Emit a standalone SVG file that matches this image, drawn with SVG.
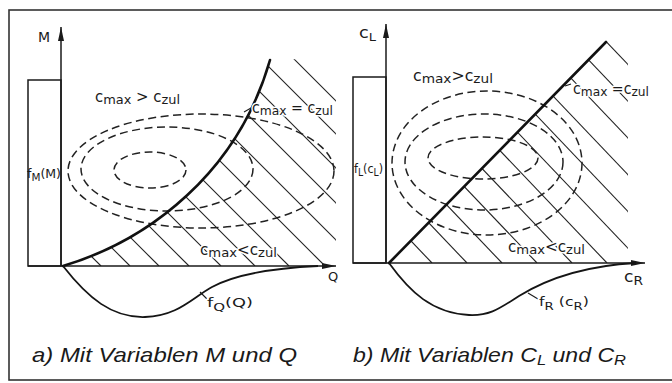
<svg xmlns="http://www.w3.org/2000/svg" width="672" height="383" viewBox="0 0 672 383">
<style>
.ax{stroke:#1a1a1a;stroke-width:1.5;fill:none}
.thick{stroke:#111;stroke-width:2.6;fill:none;stroke-linecap:round}
.fc{stroke:#151515;stroke-width:1.8;fill:none}
.hatch{stroke:#222;stroke-width:1.1}
.dash{stroke:#222;stroke-width:1.5;fill:none;stroke-dasharray:8 4.5}
.t{font-family:"DejaVu Sans","Liberation Sans",sans-serif;fill:#1a1a1a}
.h{stroke:#fff;stroke-width:3;paint-order:stroke;stroke-linejoin:round}
.cap{font-family:"Liberation Sans","DejaVu Sans",sans-serif;font-style:italic;font-size:21px;fill:#1a1a1a}
.thin{stroke:#1a1a1a;stroke-width:1.1}
</style>
<defs>
<marker id="arr" viewBox="0 0 14 6" refX="14" refY="3" markerWidth="14" markerHeight="6" markerUnits="userSpaceOnUse" orient="auto"><path d="M0,0 L14,3 L0,6 z" fill="#1a1a1a"/></marker>
<clipPath id="clipA"><path d="M63,266 C150,240 238,172 270,60 L336,58 L336,266 Z"/></clipPath>
<clipPath id="clipB"><path d="M389,263 L606,42 L628,42 L628,263 Z"/></clipPath>
</defs>
<rect width="672" height="383" fill="#fff"/>
<g id="frame"><rect x="9" y="10" width="700" height="370" fill="none" stroke="#333" stroke-width="1.6"/></g>

<g id="panel-a">
  <g id="hatch-a" clip-path="url(#clipA)" class="hatch">
    <line x1="101" y1="266" x2="-139" y2="26"/>
    <line x1="130" y1="266" x2="-110" y2="26"/>
    <line x1="159" y1="266" x2="-81" y2="26"/>
    <line x1="189" y1="266" x2="-51" y2="26"/>
    <line x1="221" y1="266" x2="-19" y2="26"/>
    <line x1="255" y1="266" x2="15" y2="26"/>
    <line x1="289" y1="266" x2="49" y2="26"/>
    <line x1="325" y1="266" x2="85" y2="26"/>
    <line x1="362" y1="266" x2="122" y2="26"/>
    <line x1="399" y1="266" x2="159" y2="26"/>
    <line x1="434" y1="266" x2="194" y2="26"/>
    <line x1="468" y1="266" x2="228" y2="26"/>
    <line x1="501" y1="266" x2="261" y2="26"/>
  </g>
  <g id="ellipses-a" class="dash">
    <ellipse cx="150" cy="170" rx="36" ry="18"/>
    <ellipse cx="167" cy="169" rx="86" ry="42"/>
    <ellipse cx="201" cy="171" rx="133" ry="57"/>
  </g>
  <g id="axes-a">
    <rect x="28" y="80" width="33" height="186" class="ax"/>
    <line x1="61" y1="266" x2="61" y2="27" class="ax" marker-end="url(#arr)"/>
    <line x1="28" y1="266" x2="336" y2="266" class="ax" marker-end="url(#arr)"/>
  </g>
  <path id="limit-a" class="thick" d="M63,266 C150,240 238,172 270,60"/>
  <path id="fQ" class="fc" d="M63,266 C88,298 112,318 145,317 C178,316 192,298 212,287 C238,273 275,268 318,266"/>
  <g id="labels-a">
    <line x1="244" y1="112" x2="251" y2="108" class="thin"/>
    <line x1="200" y1="292" x2="207" y2="299" class="thin"/>
    <text class="t h" x="95" y="102" font-size="15" textLength="85" lengthAdjust="spacingAndGlyphs">c<tspan font-size="13" dy="2">max</tspan><tspan dy="-2"> &gt; c</tspan><tspan font-size="13" dy="2">zul</tspan></text>
    <text class="t h" x="252" y="113" font-size="15" textLength="81" lengthAdjust="spacingAndGlyphs">c<tspan font-size="13" dy="2">max</tspan><tspan dy="-2"> = c</tspan><tspan font-size="13" dy="2">zul</tspan></text>
    <text class="t h" x="200" y="255" font-size="15" textLength="77" lengthAdjust="spacingAndGlyphs">c<tspan font-size="13" dy="2">max</tspan><tspan dy="-2">&lt;c</tspan><tspan font-size="13" dy="2">zul</tspan></text>
    <text class="t" x="38" y="42" font-size="14">M</text>
    <text class="t" x="27" y="178" font-size="12" textLength="34" lengthAdjust="spacingAndGlyphs">f<tspan font-size="10" dy="3">M</tspan><tspan dy="-3">(M)</tspan></text>
    <text class="t" x="328" y="281" font-size="13">Q</text>
    <text class="t h" x="207" y="307" font-size="13" textLength="46" lengthAdjust="spacingAndGlyphs">f<tspan font-size="11" dy="4">Q</tspan><tspan dy="-4">(Q)</tspan></text>
  </g>
  <text id="caption-a" class="cap" x="32" y="362" textLength="265" lengthAdjust="spacingAndGlyphs">a) Mit Variablen M und Q</text>
</g>

<g id="panel-b">
  <g id="hatch-b" clip-path="url(#clipB)" class="hatch">
    <line x1="432" y1="263" x2="202" y2="21.5"/>
    <line x1="467" y1="263" x2="237" y2="21.5"/>
    <line x1="502" y1="263" x2="272" y2="21.5"/>
    <line x1="537" y1="263" x2="307" y2="21.5"/>
    <line x1="572" y1="263" x2="342" y2="21.5"/>
    <line x1="607" y1="263" x2="377" y2="21.5"/>
    <line x1="642" y1="263" x2="412" y2="21.5"/>
    <line x1="677" y1="263" x2="447" y2="21.5"/>
    <line x1="712" y1="263" x2="482" y2="21.5"/>
    <line x1="747" y1="263" x2="517" y2="21.5"/>
    <line x1="782" y1="263" x2="552" y2="21.5"/>
    <line x1="817" y1="263" x2="587" y2="21.5"/>
  </g>
  <g id="ellipses-b" class="dash">
    <ellipse cx="483" cy="158" rx="55" ry="21"/>
    <ellipse cx="484" cy="162" rx="79" ry="48"/>
    <ellipse cx="487" cy="163" rx="95" ry="72"/>
  </g>
  <g id="axes-b">
    <rect x="353" y="77" width="33" height="186" class="ax"/>
    <line x1="386" y1="263" x2="386" y2="24" class="ax" marker-end="url(#arr)"/>
    <line x1="353" y1="263" x2="645" y2="263" class="ax" marker-end="url(#arr)"/>
  </g>
  <path id="limit-b" class="thick" d="M389,263 L606,42"/>
  <path id="fR" class="fc" d="M389,263 C410,292 432,313 469,315 C490,316 500,308 519,296 C545,280 580,266 636,263"/>
  <g id="labels-b">
    <line x1="565" y1="86" x2="571" y2="84" class="thin"/>
    <line x1="528" y1="293" x2="538" y2="299" class="thin"/>
    <text class="t h" x="413" y="81" font-size="15" textLength="80" lengthAdjust="spacingAndGlyphs">c<tspan font-size="13" dy="2">max</tspan><tspan dy="-2">&gt;c</tspan><tspan font-size="13" dy="2">zul</tspan></text>
    <text class="t h" x="573" y="94" font-size="15" textLength="76" lengthAdjust="spacingAndGlyphs">c<tspan font-size="13" dy="2">max</tspan><tspan dy="-2"> =c</tspan><tspan font-size="13" dy="2">zul</tspan></text>
    <text class="t h" x="508" y="252" font-size="15" textLength="77" lengthAdjust="spacingAndGlyphs">c<tspan font-size="13" dy="2">max</tspan><tspan dy="-2">&lt;c</tspan><tspan font-size="13" dy="2">zul</tspan></text>
    <text class="t" x="359" y="38" font-size="15" textLength="17" lengthAdjust="spacingAndGlyphs">c<tspan font-size="11" dy="3">L</tspan></text>
    <text class="t" x="354" y="173" font-size="12" textLength="29" lengthAdjust="spacingAndGlyphs">f<tspan font-size="10" dy="3">L</tspan><tspan dy="-3">(c</tspan><tspan font-size="10" dy="3">L</tspan><tspan dy="-3">)</tspan></text>
    <text class="t" x="624" y="282" font-size="15" textLength="19" lengthAdjust="spacingAndGlyphs">c<tspan font-size="12" dy="3">R</tspan></text>
    <text class="t h" x="539" y="306" font-size="13" textLength="50" lengthAdjust="spacingAndGlyphs">f<tspan font-size="11" dy="4">R</tspan><tspan dy="-4"> (c</tspan><tspan font-size="11" dy="4">R</tspan><tspan dy="-4">)</tspan></text>
  </g>
  <text id="caption-b" class="cap" x="353" y="362" textLength="273" lengthAdjust="spacingAndGlyphs">b) Mit Variablen C<tspan font-size="15" dy="3">L</tspan><tspan dy="-3"> und C</tspan><tspan font-size="15" dy="3">R</tspan></text>
</g>
</svg>
